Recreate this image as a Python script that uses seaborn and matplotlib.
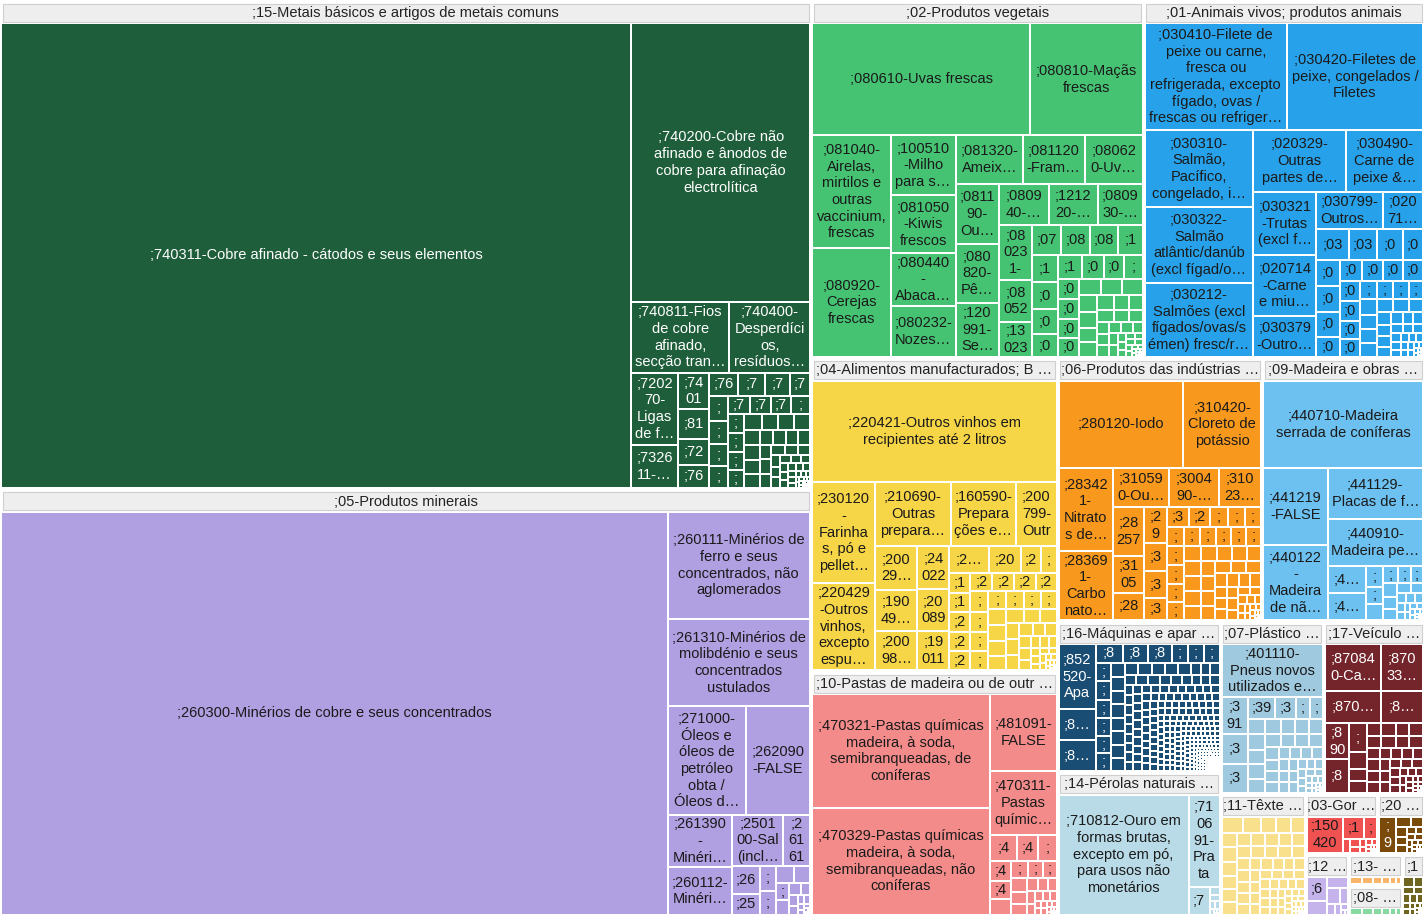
import matplotlib
matplotlib.use("Agg")
import matplotlib.pyplot as plt
from matplotlib.patches import Rectangle
from matplotlib.font_manager import FontProperties
import seaborn as sns

sns.set_theme(style="white")
plt.rcParams["font.family"] = ["Liberation Sans", "DejaVu Sans"]

FIG_W, FIG_H = 1424, 916

# ---------------- data (valores em US$ milhões, estimados) ----------------
GROUP_CODES = ["15", "05", "02", "01", "04", "10", "06", "09", "16", "14",
               "07", "17", "11", "03", "20", "12", "13", "08", "18"]
GROUP_NAMES = [
    ";15-Metais básicos e artigos de metais comuns",
    ";05-Produtos minerais",
    ";02-Produtos vegetais",
    ";01-Animais vivos; produtos animais",
    ";04-Alimentos manufacturados; Bebidas, líquidos alcoólicos e vinagres; Tabaco",
    ";10-Pastas de madeira ou de outras matérias fibrosas celulósicas; papel",
    ";06-Produtos das indústrias químicas ou das indústrias conexas",
    ";09-Madeira e obras de madeira; carvão vegetal",
    ";16-Máquinas e aparelhos, material eléctrico",
    ";14-Pérolas naturais ou cultivadas, pedras preciosas",
    ";07-Plástico e suas obras; borracha",
    ";17-Veículos, aeronaves e embarcações",
    ";11-Têxteis e suas obras",
    ";03-Gorduras e óleos animais ou vegetais",
    ";20-Mercadorias e produtos diversos",
    ";12-Calçado, chapéus e artefactos de uso semelhante",
    ";13-Obras de pedra, gesso, cimento, cerâmica, vidro",
    ";08-Peles, couros, peles com pêlo e obras",
    ";18-Instrumentos e aparelhos de óptica",
]
GROUP_COLORS = ["#1f5e3a", "#b09fe1", "#45c373", "#27a1e9", "#f6d547", "#f48b8b",
                "#f8991e", "#6dc1f0", "#1a4d73", "#b9dbe8", "#9ec9de", "#74252b",
                "#f8e08c", "#f05252", "#7a4a0b", "#c5b3ec", "#f9b66a", "#86d9a1",
                "#6f6420"]
TAIL_CODES = [";7", ";2", ";0", ";0", ";2", ";4", ";3", ";4", ";8", ";7",
              ";3", ";8", ";6", ";1", ";9", ";6", ";7", ";4", ";9"]

G15_LABELS = [
    ";740311-Cobre afinado - cátodos e seus elementos",
    ";740200-Cobre não afinado e ânodos de cobre para afinação electrolítica",
    ";740811-Fios de cobre afinado, secção transversal superior a 6 mm",
    ";740400-Desperdícios, resíduos e sucata de cobre",
    ";720270-Ligas de ferro-molibdénio",
    ";732611-Bolas e artefactos semelhantes para moinhos",
    ";740100-Mates de cobre; cobre de cementação",
    ";810294-Molibdénio em formas brutas",
    ";721420-Barras de ferro ou aço não ligado",
    ";760110-Alumínio não ligado em formas brutas",
    ";760120-Ligas de alumínio em formas brutas",
    ";740710-Barras e perfis de cobre afinado",
    ";741110-Tubos de cobre afinado",
    ";730890-Outras construções de ferro ou aço",
]
G15_VALUES = [15435, 2628, 364, 300, 178, 105, 60, 49, 42, 37, 36.5, 33, 30.5, 25]
G15_TAIL = [24.4, 23.3, 22.3, 21.2, 20.7, 19.6, 18.6, 17.5, 17.0, 16.2, 15.9, 15.4,
            14.8, 14.3, 13.8, 13.3, 12.7, 12.2, 11.7, 11.1, 10.6, 10.1, 9.5, 9.0,
            8.5, 8.2, 8.0, 7.4, 6.9, 6.4, 5.8, 5.3, 5.0, 4.8, 4.5, 4.2, 4.0, 3.7,
            3.4, 3.2, 2.9, 2.7, 2.4, 2.1, 1.9, 1.7, 1.5, 1.3, 1.2, 1.1, 1.0, 0.8,
            0.7, 0.6, 0.5, 0.5, 0.4, 0.4, 0.3, 0.3, 0.2, 0.2, 0.1, 0.1, 0.05, 0.05]

G05_LABELS = [
    ";260300-Minérios de cobre e seus concentrados",
    ";260111-Minérios de ferro e seus concentrados, não aglomerados",
    ";261310-Minérios de molibdénio e seus concentrados ustulados",
    ";271000-Óleos e óleos de petróleo obta / Óleos de petróleo",
    ";262090-FALSE",
    ";261390-Minérios de molibdénio e seus concentrados, não ustulados",
    ";260112-Minérios de ferro aglomerados",
    ";250100-Sal (incluído o sal de mesa e o sal desnaturado)",
    ";261610-Minérios de prata e seus concentrados",
    ";261690-Minérios de metais preciosos",
    ";252010-Gesso; anidrite",
    ";253090-Outras matérias minerais",
    ";251110-Sulfato de bário natural",
]
G05_VALUES = [14269, 811, 661, 450, 369, 179, 165, 138, 74, 41, 31, 21, 21]
G05_TAIL = [15.9, 13.8, 11.6, 9.5, 7.9, 6.3, 5.3, 4.2, 3.2, 2.6, 2.1, 1.6, 1.1,
            0.8, 0.5, 0.4, 0.3, 0.2, 0.1, 0.05]

G02_LABELS = [
    ";080610-Uvas frescas",
    ";080810-Maçãs frescas",
    ";081040-Airelas, mirtilos e outras vaccinium, frescas",
    ";080920-Cerejas frescas",
    ";100510-Milho para sementeira",
    ";081050-Kiwis frescos",
    ";080440-Abacates frescos ou secos",
    ";080232-Nozes sem casca",
    ";081320-Ameixas secas",
    ";081120-Framboesas, amoras congeladas",
    ";080620-Uvas secas",
    ";081190-Outras frutas congeladas",
    ";080820-Pêras frescas",
    ";120991-Sementes de produtos hortícolas",
    ";080940-Ameixas e abrunhos frescos",
    ";121220-Algas",
    ";080930-Pêssegos e nectarinas frescos",
    ";080231-Nozes com casca",
    ";080520-Tangerinas, mandarinas e clementinas",
    ";130239-Mucilagens e espessantes",
    ";071239-Outros produtos hortícolas secos",
    ";080450-Goiabas e mangas",
    ";081110-Morangos congelados",
    ";100590-Outro milho",
    ";110710-Malte não torrado",
    ";070990-Outros produtos hortícolas",
    ";071080-Outros legumes congelados",
    ";080510-Laranjas",
    ";121490-Outras forragens",
    ";080550-Limões e limas",
]
G02_VALUES = [1323, 680, 478, 461, 210, 202, 184, 178, 176, 162, 152, 140, 138,
              126, 110, 109, 99, 98, 76, 62, 47, 46, 45, 40, 38, 37, 35, 31, 30, 29]
G02_TAIL = [24.6, 24.1, 23.0, 22.5, 21.9, 20.8, 19.7, 18.6, 18.0, 16.4, 15.3,
            14.2, 14.0, 13.1, 12.0, 11.0, 10.9, 9.8, 8.8, 8.2, 7.7, 7.5, 7.1, 6.6,
            6.0, 5.5, 4.9, 4.4, 3.8, 3.3, 3.0, 2.7, 2.5, 2.2, 1.9, 1.6, 1.4, 1.1,
            1.0, 0.8, 0.7, 0.5, 0.4, 0.3, 0.3, 0.2, 0.2, 0.1, 0.05]

G01_LABELS = [
    ";030410-Filete de peixe ou carne, fresca ou refrigerada, excepto fígado, ovas / frescas ou refrigerados",
    ";030420-Filetes de peixe, congelados / Filetes",
    ";030310-Salmão, Pacífico, congelado, inteiro",
    ";030322-Salmão atlântic/danúb (excl fígad/ovas) congelado",
    ";030212-Salmões (excl fígados/ovas/sémen) fresc/refrig",
    ";020329-Outras partes de suíno, congeladas",
    ";030490-Carne de peixe & outros",
    ";030321-Trutas (excl fígados/ovas) congeladas",
    ";020714-Carne e miudezas de galos e galinhas",
    ";030379-Outros peixes congelados",
    ";030799-Outros moluscos",
    ";020712-Galos e galinhas não cortados",
    ";030749-Chocos e lulas congelados",
    ";030389-Outros peixes congelados",
    ";041000-Produtos comestíveis de origem animal",
    ";030760-Caracóis",
    ";051191-Produtos de peixes",
    ";030611-Lagostas congeladas",
    ";030390-Fígados, ovas e sémen",
    ";020230-Carne bovina desossada",
    ";030614-Caranguejos congelados",
]
G01_VALUES = [822, 787, 450, 445, 430, 308, 256, 218, 207, 139, 135, 81, 55, 46,
              45, 33, 33, 33, 33, 25, 24]
G01_TAIL = [23.0, 22.5, 22.0, 21.5, 20.9, 19.5, 18.7, 17.0, 16.5, 15.4, 14.3,
            14.0, 13.2, 13.2, 12.1, 11.5, 11.0, 9.9, 9.5, 8.8, 8.0, 7.7, 7.1, 6.6,
            6.0, 6.0, 5.5, 5.0, 4.9, 4.4, 4.0, 3.8, 3.5, 3.3, 2.7, 2.5, 2.2, 1.9,
            1.6, 1.4, 1.1, 0.8, 0.7, 0.5, 0.4, 0.3, 0.2, 0.2, 0.1, 0.05]

G04_LABELS = [
    ";220421-Outros vinhos em recipientes até 2 litros",
    ";230120-Farinhas, pó e pellets de peixes",
    ";220429-Outros vinhos, excepto espumantes, em recipientes > 2 l",
    ";210690-Outras preparações alimentícias",
    ";160590-Preparações e conservas de moluscos",
    ";200799-Outros doces, geleias e purés de frutas",
    ";200290-Tomates preparados ou conservados",
    ";190490-Outros produtos à base de cereais",
    ";200989-Outros sumos de fruta",
    ";240220-Cigarros que contenham tabaco",
    ";200899-Outras frutas preparadas",
    ";190110-Preparações para alimentação infantil",
    ";230990-Outras preparações para alimentação animal",
    ";200811-Amendoins preparados",
    ";210390-Outros molhos e preparações",
    ";190590-Outros produtos de padaria",
    ";170490-Outros produtos de confeitaria",
    ";160414-Atuns preparados",
    ";210111-Extractos de café",
]
G04_VALUES = [1351, 350, 300, 265, 231, 142, 100, 95, 90, 74, 72, 68, 58, 45, 29,
              23, 23, 23, 23]
G04_TAIL = [22.2, 22.2, 21.7, 21.7, 21.1, 20.5, 20.0, 19.5, 18.9, 18.5, 17.8,
            17.5, 16.7, 16.0, 15.6, 15.0, 14.5, 14.0, 13.3, 12.5, 12.2, 11.5, 11.1,
            10.6, 10.0, 8.9, 8.3, 7.8, 7.2, 6.7, 6.1, 5.6, 5.0, 4.4, 3.9, 3.3, 3.1,
            2.8, 2.5, 2.2, 1.9, 1.7, 1.4, 1.1, 0.8, 0.7, 0.6, 0.4, 0.3, 0.2, 0.2,
            0.1, 0.06]

G10_LABELS = [
    ";470321-Pastas químicas madeira, à soda, semibranqueadas, de coníferas",
    ";470329-Pastas químicas madeira, à soda, semibranqueadas, não coníferas",
    ";481091-FALSE",
    ";470311-Pastas químicas madeira, à soda, cruas, de coníferas",
    ";480411-Papel kraftliner cru",
    ";470200-Pastas químicas para dissolução",
    ";481013-Papel e cartão revestidos",
]
G10_VALUES = [1127, 1068, 285, 240, 38, 30, 26]
G10_TAIL = [23.5, 21.3, 19.0, 16.8, 15.1, 13.4, 11.8, 10.6, 9.5, 8.4, 7.3, 6.4,
            5.6, 5.0, 4.5, 3.9, 3.4, 2.8, 2.5, 2.2, 2.0, 1.7, 1.4, 1.1, 0.8, 0.7,
            0.6, 0.4, 0.3, 0.2, 0.2, 0.1, 0.06]

G06_LABELS = [
    ";280120-Iodo",
    ";310420-Cloreto de potássio",
    ";283421-Nitratos de potássio",
    ";283691-Carbonato de lítio",
    ";310590-Outros adubos minerais ou químicos",
    ";300490-Outros medicamentos",
    ";310230-Nitrato de amónio",
    ";282570-Óxidos e hidróxidos de molibdénio",
    ";310520-Adubos com azoto, fósforo e potássio",
    ";282520-Hidróxido de lítio",
    ";290511-Metanol",
    ";380893-Herbicidas",
    ";330290-Outras misturas de substâncias odoríferas",
    ";340290-Outras preparações tensoactivas",
    ";380891-Insecticidas",
    ";282739-Outros cloretos",
    ";320890-Outras tintas e vernizes",
    ";330130-Resinóides",
]
G06_VALUES = [604, 379, 251, 208, 123, 109, 93, 85, 64, 48, 45, 35, 33, 28, 24,
              23, 19.4, 18.5]
G06_TAIL = [18.1, 17.9, 17.6, 17.3, 17.0, 16.7, 16.4, 16.2, 15.9, 15.6, 15.3,
            15.0, 14.7, 14.5, 14.2, 13.6, 13.3, 13.0, 12.8, 12.5, 11.9, 11.6, 11.3,
            10.8, 10.5, 10.2, 9.8, 9.6, 9.1, 8.8, 8.5, 7.9, 7.7, 7.4, 6.8, 6.5,
            6.2, 5.7, 5.1, 4.5, 4.0, 3.4, 3.1, 2.8, 2.6, 2.3, 2.0, 1.7, 1.4, 1.1,
            0.9, 0.7, 0.6, 0.5, 0.3, 0.2, 0.2, 0.1, 0.06]

G09_LABELS = [
    ";440710-Madeira serrada de coníferas",
    ";441219-FALSE",
    ";440122-Madeira de não coníferas, em estilhas ou partículas",
    ";441129-Placas de fibras de madeira",
    ";440910-Madeira perfilada de coníferas",
    ";440320-Madeira em bruto de coníferas",
    ";441231-Contraplacados de madeira tropical",
]
G09_VALUES = [778, 276, 269, 268, 253, 57, 56]
G09_TAIL = [19.8, 17.0, 15.5, 14.2, 12.5, 11.3, 10.0, 9.6, 8.5, 7.4, 6.2, 5.4,
            5.0, 4.5, 4.0, 3.4, 2.8, 2.6, 2.3, 2.0, 1.7, 1.4, 1.1, 0.9, 0.7, 0.6,
            0.5, 0.3, 0.2, 0.2, 0.1, 0.06]

G16_LABELS = [
    ";852520-Aparelhos transmissores com aparelho receptor",
    ";847130-Máquinas automáticas para processamento de dados, portáteis",
    ";847149-Outras máquinas automáticas para processamento de dados",
    ";850440-Conversores estáticos",
    ";847989-Outras máquinas e aparelhos mecânicos",
    ";843149-Partes de máquinas e aparelhos",
    ";842139-Aparelhos para filtrar gases",
    ";848180-Outras torneiras e válvulas",
    ";853710-Quadros e painéis eléctricos",
]
G16_VALUES = [145, 70, 67, 30, 28, 27, 17, 16, 16]
G16_TAIL = [
    17.9, 17.7, 17.5, 17.4, 17.2, 17.0,
    11.4, 11.3, 11.1, 11.0, 10.9, 10.8, 10.7,
    10.4, 10.3, 10.1, 10.0, 9.9, 9.8,
    7.2, 7.1, 7.0, 6.9, 6.9, 6.8, 6.7, 6.6,
    5.6, 5.5, 5.5, 5.4, 5.3, 5.3, 5.2, 5.1, 5.1, 5.0,
    4.9, 4.9, 4.8, 4.8, 4.8, 4.7, 4.7, 4.6, 4.6, 4.6, 4.5, 4.5, 4.5, 4.4, 4.4,
    4.4, 4.3, 4.3, 4.2, 4.2, 4.2, 4.1, 4.1, 4.0, 4.0,
    3.9, 3.9, 3.9, 3.8, 3.8, 3.7, 3.7, 3.7, 3.6, 3.6, 3.5, 3.5, 3.5, 3.4, 3.4,
    3.3, 3.3, 3.3, 3.2, 3.2, 3.1, 3.1, 3.1, 3.0, 3.0, 3.0, 2.9, 2.9, 2.9, 2.8,
    2.8, 2.8, 2.8, 2.8,
    2.9, 2.8, 2.8, 2.7, 2.7, 2.7, 2.6, 2.6, 2.6, 2.6, 2.5, 2.5, 2.5, 2.5, 2.4,
    2.4, 2.4, 2.4, 2.3, 2.3, 2.3, 2.3, 2.2, 2.2, 2.2, 2.2, 2.1, 2.1, 2.1, 2.1,
    2.1, 2.0, 2.0, 2.0, 2.0, 2.0, 2.0, 1.9, 1.9, 1.9, 1.9, 1.9, 1.9, 1.8, 1.8,
    1.8, 1.8, 1.8, 1.8, 1.7, 1.7, 1.7, 1.7, 1.7, 1.7, 1.6, 1.6, 1.6, 1.6, 1.6,
    1.6, 1.5, 1.5, 1.5, 1.5, 1.5, 1.5, 1.5, 1.5,
    1.4, 1.4, 1.4, 1.4, 1.4, 1.4, 1.4, 1.4, 1.3, 1.3, 1.3, 1.3, 1.3, 1.3, 1.3,
    1.3, 1.2, 1.2, 1.2, 1.2, 1.2, 1.2, 1.2, 1.2, 1.1, 1.1, 1.1, 1.1, 1.1, 1.1,
    1.1, 1.1, 1.0, 1.0, 1.0, 1.0, 1.0, 1.0, 1.0, 1.0,
    0.9, 0.9, 0.9, 0.9, 0.9, 0.9, 0.9, 0.9, 0.8, 0.8, 0.8, 0.8, 0.8, 0.8, 0.8,
    0.8, 0.7, 0.7, 0.7, 0.7, 0.7, 0.7, 0.7, 0.7, 0.6, 0.6, 0.6, 0.6, 0.6, 0.6,
    0.6, 0.6, 0.5, 0.5, 0.5, 0.5, 0.5, 0.5, 0.5, 0.5,
    0.45, 0.45, 0.45, 0.45, 0.45, 0.45, 0.45, 0.45, 0.4, 0.4, 0.4, 0.4, 0.4,
    0.4, 0.4, 0.4, 0.35, 0.35, 0.35, 0.35, 0.35, 0.35, 0.35, 0.35, 0.3, 0.3,
    0.3, 0.3, 0.3, 0.3, 0.3, 0.3, 0.25, 0.25, 0.25, 0.25, 0.25, 0.25, 0.25, 0.25,
    0.2, 0.2, 0.2, 0.2, 0.2, 0.2, 0.2, 0.2, 0.2, 0.2, 0.15, 0.15, 0.15, 0.15,
    0.15, 0.15, 0.15, 0.15, 0.15, 0.15, 0.1, 0.1, 0.1, 0.1, 0.1, 0.1, 0.1, 0.1,
    0.1, 0.1,
]

G14_LABELS = [
    ";710812-Ouro em formas brutas, excepto em pó, para usos não monetários",
    ";710691-Prata em formas brutas",
    ";711319-Artefactos de joalharia de metais preciosos",
]
G14_VALUES = [950, 174, 36]
G14_TAIL = [4.9, 3.7, 2.8, 2.2, 1.5, 0.9, 0.6, 0.4, 0.2, 0.06]

G07_LABELS = [
    ";401110-Pneus novos utilizados em automóveis de passageiros",
    ";391510-Desperdícios de polímeros de etileno",
    ";392010-Chapas de polímeros de etileno",
    ";390110-Polietileno de densidade inferior a 0,94",
    ";392330-Garrafões, garrafas e frascos",
    ";390210-Polipropileno",
    ";401699-Outras obras de borracha",
]
G07_VALUES = [318, 56, 47, 44, 35, 27, 17]
G07_TAIL = [16.8, 16.5, 16.0, 15.5, 15.0, 14.5, 14.0, 13.5, 13.0, 12.5,
            12.0, 11.5, 11.0, 10.5, 10.0, 9.5, 9.0, 8.5, 8.0, 7.8, 7.8,
            7.5, 7.0, 6.5, 6.3, 6.0, 5.5, 5.2, 5.2, 5.0, 4.6, 4.2, 3.8, 3.5,
            3.2, 2.9, 2.6, 2.3, 2.0, 1.8, 1.6, 1.4, 1.2, 1.0, 0.8, 0.6, 0.5, 0.4,
            0.3, 0.2, 0.1]

G17_LABELS = [
    ";870840-Caixas de velocidades e suas partes",
    ";870332-Automóveis com motor diesel, cilindrada 1500-2500 cm3",
    ";870899-Outras partes e acessórios de veículos",
    ";880240-Aviões de peso superior a 15000 kg",
    ";890190-Outros barcos para transporte",
    ";870421-Veículos diesel para transporte de mercadorias",
    ";870190-Outros tractores",
    ";871200-Bicicletas",
    ";870600-Chassis com motor",
]
G17_VALUES = [158, 116, 106, 78, 53, 48, 30, 17, 12.5]
G17_TAIL = [12.0, 11.5, 11.0, 10.8, 10.5, 10.0, 9.8, 9.5, 9.3, 9.0, 8.8,
            8.5, 8.2, 8.0, 7.8, 7.5, 7.2, 7.0, 6.8, 6.5, 6.0, 5.8,
            5.5, 5.0, 4.8, 4.5, 4.0, 3.6, 3.4, 3.2, 2.8, 2.5, 2.2,
            2.0, 1.8, 1.6, 1.4, 1.2, 1.0, 0.8, 0.6, 0.5, 0.4, 0.3, 0.2, 0.1]

G11_LABELS = [
    ";610910-T-shirts e camisolas interiores de algodão",
    ";630900-Artefactos de matérias têxteis usados",
    ";520100-Algodão não cardado nem penteado",
]
G11_VALUES = [22.5, 18.5, 16.5]
G11_TAIL = [15.0, 14.5, 14.0, 13.8, 13.5, 13.0, 12.8, 12.5, 12.0, 11.8, 11.5,
            11.0, 10.8, 10.6, 10.5, 10.2, 10.0, 9.9, 9.7, 9.6, 9.4, 9.1, 8.8, 8.7,
            8.5, 8.2, 8.0, 7.9, 7.8, 7.6, 7.3, 7.0, 7.0, 6.8, 6.5, 6.2, 6.0, 5.9,
            5.8, 5.5, 5.3, 5.0, 5.0, 4.8, 4.6, 4.4, 4.2, 4.0, 3.8, 3.6, 3.4, 3.2,
            3.0, 2.8, 2.6, 2.4, 2.2, 2.0, 1.8, 1.6, 1.4, 1.2, 1.0, 0.9, 0.8, 0.7,
            0.6, 0.5, 0.4, 0.3, 0.2, 0.1]

G03_LABELS = [
    ";150420-Gorduras e óleos de peixes e suas fracções",
    ";151590-Outras gorduras e óleos vegetais",
    ";150500-Suarda e substâncias gordas",
]
G03_VALUES = [111, 41, 24]
G03_TAIL = [8.4, 6.6, 5.1, 4.2, 3.3, 2.8, 2.3, 1.9, 1.4, 1.1, 0.9, 0.7, 0.6, 0.4,
            0.2, 0.1]

G20_LABELS = [";940360-Outros móveis de madeira"]
G20_VALUES = [56]
G20_TAIL = [12.5, 10.8, 9.2, 7.9, 6.6, 5.8, 5.0, 4.2, 3.7, 3.3, 2.9, 2.5, 2.1,
            1.7, 1.3, 1.0, 0.8, 0.7, 0.5, 0.4, 0.3, 0.2, 0.1]

G12_LABELS = [";640399-Outros calçados com sola de borracha"]
G12_VALUES = [42]
G12_TAIL = [23.0, 21.0, 17.5, 10.5, 8.0, 5.3, 3.5, 1.8, 1.0]

G13_LABELS = [";701090-Garrafões, garrafas e frascos de vidro"]
G13_VALUES = [20.7]
G13_TAIL = [17.3, 15.1, 13.0, 10.8, 7.8]

G08_LABELS = [";410390-Outros couros e peles em bruto"]
G08_VALUES = [20.1]
G08_TAIL = [16.8, 15.1, 12.6, 10.1, 7.5]

G18_LABELS = [";901890-Outros instrumentos e aparelhos médicos"]
G18_VALUES = [9.2]
G18_TAIL = [8.2, 7.1, 6.1, 5.6, 5.1, 4.6, 4.1, 3.6, 3.1, 2.6, 2.0, 1.5, 1.2, 1.0,
            0.8, 0.6, 0.5, 0.4, 0.3, 0.2, 0.1]

GROUP_LABELS = [G15_LABELS, G05_LABELS, G02_LABELS, G01_LABELS, G04_LABELS,
                G10_LABELS, G06_LABELS, G09_LABELS, G16_LABELS, G14_LABELS,
                G07_LABELS, G17_LABELS, G11_LABELS, G03_LABELS, G20_LABELS,
                G12_LABELS, G13_LABELS, G08_LABELS, G18_LABELS]
GROUP_VALUES = [G15_VALUES, G05_VALUES, G02_VALUES, G01_VALUES, G04_VALUES,
                G10_VALUES, G06_VALUES, G09_VALUES, G16_VALUES, G14_VALUES,
                G07_VALUES, G17_VALUES, G11_VALUES, G03_VALUES, G20_VALUES,
                G12_VALUES, G13_VALUES, G08_VALUES, G18_VALUES]
GROUP_TAILS = [G15_TAIL, G05_TAIL, G02_TAIL, G01_TAIL, G04_TAIL, G10_TAIL,
               G06_TAIL, G09_TAIL, G16_TAIL, G14_TAIL, G07_TAIL, G17_TAIL,
               G11_TAIL, G03_TAIL, G20_TAIL, G12_TAIL, G13_TAIL, G08_TAIL,
               G18_TAIL]


# ---------------- squarified treemap layout ----------------
def worst(row, side):
    s = sum(row)
    return max(max(side * side * r / (s * s), (s * s) / (side * side * r)) for r in row)


def squarify(vals, x, y, w, h):
    total = float(sum(vals))
    areas = [v * w * h / total for v in vals]
    rects = []
    i, n = 0, len(areas)
    while i < n:
        side = min(w, h)
        row = [areas[i]]
        j = i + 1
        while j < n and side > 0 and worst(row + [areas[j]], side) <= worst(row, side):
            row.append(areas[j])
            j += 1
        s = sum(row)
        if w >= h:
            cw = s / h if h > 0 else 0
            yy = y
            for a in row:
                rh = a / cw if cw > 0 else 0
                rects.append((x, yy, cw, rh))
                yy += rh
            x += cw
            w -= cw
        else:
            rh = s / w if w > 0 else 0
            xx = x
            for a in row:
                rw = a / rh if rh > 0 else 0
                rects.append((xx, y, rw, rh))
                xx += rw
            y += rh
            h -= rh
        i = j
    return rects


# ---------------- figure ----------------
fig = plt.figure(figsize=(FIG_W / 100, FIG_H / 100), dpi=100)
fig.patch.set_facecolor("white")
ax = fig.add_axes([0, 0, 1, 1])
ax.set_xlim(0, FIG_W)
ax.set_ylim(FIG_H, 0)
ax.axis("off")

FS = 10.5
LINE_H = 16.7
FONT = FontProperties(family="Liberation Sans", size=FS)
renderer = fig.canvas.get_renderer()
_cache = {}


def tw(s):
    if s not in _cache:
        _cache[s] = renderer.get_text_width_height_descent(s, FONT, ismath=False)[0]
    return _cache[s]


def break_token(t, maxw):
    pieces = []
    rest = t
    while rest:
        if tw(rest) <= maxw:
            pieces.append(rest)
            break
        best = None
        for k in range(len(rest) - 1, 0, -1):
            if rest[k - 1] == "-" and tw(rest[:k]) <= maxw:
                best = k
                break
        if best is None:
            k = 0
            while k < len(rest) and tw(rest[:k + 1]) <= maxw:
                k += 1
            if k == 0:
                return pieces, True
            best = k
        pieces.append(rest[:best])
        rest = rest[best:]
    return pieces, False


def full_wrap(label, maxw, limit):
    lines, cur = [], ""
    for t in label.split(" "):
        cand = t if not cur else cur + " " + t
        if tw(cand) <= maxw:
            cur = cand
            continue
        if cur:
            lines.append(cur)
            cur = ""
        if len(lines) > limit:
            return lines
        pieces, failed = break_token(t, maxw)
        lines.extend(pieces[:-1])
        cur = pieces[-1] if pieces else ""
        if failed:
            break
    if cur:
        lines.append(cur)
    return lines


def wrap(label, maxw, nlines):
    if nlines < 1 or maxw < 3:
        return []
    lines = full_wrap(label, maxw, nlines)
    if len(lines) <= nlines:
        return lines
    pos = 0
    for ln in lines[:nlines - 1]:
        pos = label.find(ln, pos) + len(ln)
    rest = label[pos:].lstrip()
    base = rest
    while base and tw(base.rstrip() + "…") > maxw:
        base = base[:-1]
    base = base.rstrip()
    last = base + "…" if len(base) >= 2 else lines[nlines - 1]
    return lines[:nlines - 1] + [last]


def header_text(label, maxw):
    if tw(label) <= maxw:
        return label
    base = label
    while base and tw(base.rstrip() + " …") > maxw:
        base = base[:-1]
    base = base.rstrip()
    if len(base) >= 2:
        return base + " …"
    base = label
    while base and tw(base) > maxw:
        base = base[:-1]
    return base


def text_color(hexcol):
    r, g, b = (int(hexcol[i:i + 2], 16) for i in (1, 3, 5))
    return "white" if 0.299 * r + 0.587 * g + 0.114 * b < 110 else "#1a1a1a"


pal = sns.color_palette(GROUP_COLORS)

totals = [sum(v) + sum(t) for v, t in zip(GROUP_VALUES, GROUP_TAILS)]
gorder = sorted(range(len(totals)), key=lambda k: -totals[k])
grects = squarify([totals[k] for k in gorder], 0, 0, FIG_W, FIG_H)

for gi, (gx, gy, gw, gh) in zip(gorder, grects):
    color = GROUP_COLORS[gi]
    tcol = text_color(color)
    # group header
    ax.add_patch(Rectangle((gx + 2.5, gy + 3.5), gw - 5, 18, facecolor="#eeeeee",
                           edgecolor="#cfcfcf", linewidth=0.8))
    ht = header_text(GROUP_NAMES[gi], gw - 3.5)
    if ht:
        ax.text(gx + gw / 2, gy + 12.8, ht, ha="center", va="center",
                fontproperties=FONT, color="#222222")
    # leaves
    labels = list(GROUP_LABELS[gi]) + [TAIL_CODES[gi]] * len(GROUP_TAILS[gi])
    values = list(GROUP_VALUES[gi]) + list(GROUP_TAILS[gi])
    order = sorted(range(len(values)), key=lambda k: -values[k])
    cx, cy, cw, ch = gx + 1, gy + 23, gw - 2, gh - 24
    lrects = squarify([values[k] for k in order], cx, cy, cw, ch)
    for li, (x, y, w, h) in zip(order, lrects):
        if w > 2 and h > 2:
            ax.add_patch(Rectangle((x + 1, y + 1), w - 2, h - 2, facecolor=pal[gi],
                                   edgecolor="none", linewidth=0))
        nlines = int((h + 0.2) // 17.1)
        lines = wrap(labels[li], w - 7, nlines)
        if not lines:
            continue
        top = y + (h - len(lines) * LINE_H) / 2
        for k, line in enumerate(lines):
            ax.text(x + w / 2, top + (k + 0.5) * LINE_H, line, ha="center",
                    va="center", fontproperties=FONT, color=tcol)

fig.savefig("out.png", dpi=100, facecolor="white")
